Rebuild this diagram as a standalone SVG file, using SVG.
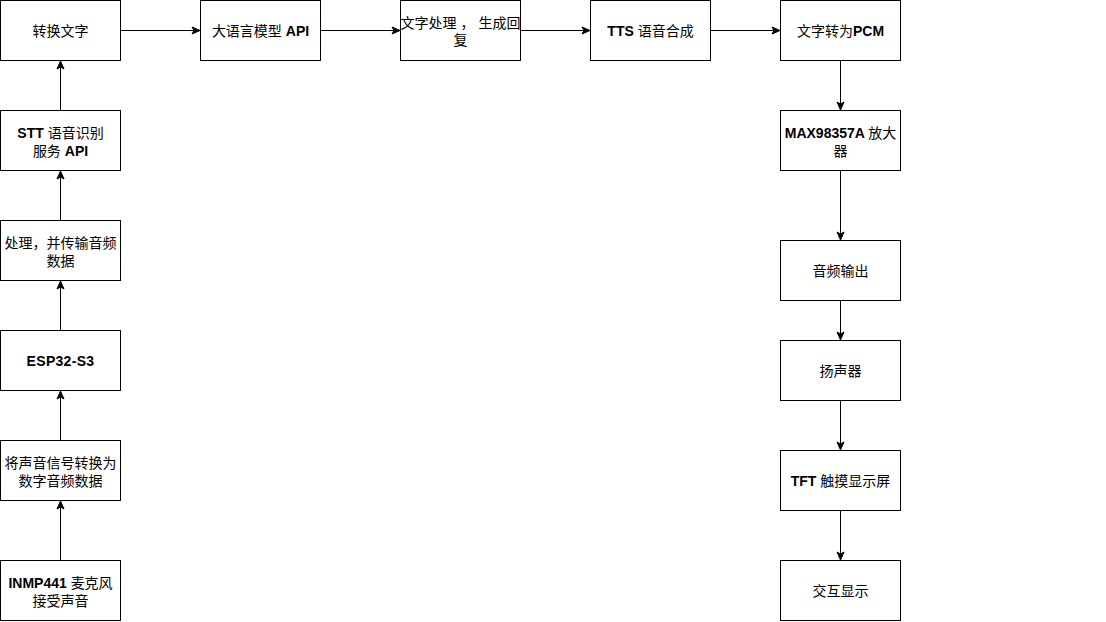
<svg xmlns="http://www.w3.org/2000/svg" width="1106" height="622" viewBox="0 0 1106 622">
<style>
rect.box{fill:#fff;stroke:#000;stroke-width:1}
text{font-family:"Liberation Sans","Noto Sans CJK SC",sans-serif;font-size:14px;fill:#000;text-anchor:middle}
.b{font-weight:bold}
.conn line{stroke:#000;stroke-width:1;marker-end:url(#arr)}
</style>
<defs>
<marker id="arr" markerUnits="userSpaceOnUse" markerWidth="10" markerHeight="10" viewBox="0 0 10 10" refX="9" refY="5" orient="auto">
<path d="M1,1.5 L9,5 L1,8.5 L3,5 Z" fill="#000" stroke="#000" stroke-width="1"/>
</marker>
</defs>
<rect width="1106" height="622" fill="#fff"/>
<g class="conn">
<line x1="60.5" y1="560" x2="60.5" y2="501"/>
<line x1="60.5" y1="440" x2="60.5" y2="391"/>
<line x1="60.5" y1="330" x2="60.5" y2="281"/>
<line x1="60.5" y1="220" x2="60.5" y2="171"/>
<line x1="60.5" y1="110" x2="60.5" y2="61"/>
<line x1="121" y1="30.5" x2="200" y2="30.5"/>
<line x1="321" y1="30.5" x2="400" y2="30.5"/>
<line x1="521" y1="30.5" x2="590" y2="30.5"/>
<line x1="711" y1="30.5" x2="780" y2="30.5"/>
<line x1="840.5" y1="61" x2="840.5" y2="110"/>
<line x1="840.5" y1="171" x2="840.5" y2="240"/>
<line x1="840.5" y1="301" x2="840.5" y2="340"/>
<line x1="840.5" y1="401" x2="840.5" y2="450"/>
<line x1="840.5" y1="511" x2="840.5" y2="560"/>
</g>
<g id="n-zhuanhuan"><rect class="box" x="0.5" y="0.5" width="120" height="60"/><text x="60.5" y="35.5">转换文字</text></g>
<g id="n-stt"><rect class="box" x="0.5" y="110.5" width="120" height="60"/><text x="60.5" y="137.5"><tspan class="b">STT </tspan>语音识别</text><text x="60.5" y="155.5">服务 <tspan class="b">API</tspan></text></g>
<g id="n-chuli"><rect class="box" x="0.5" y="220.5" width="120" height="60"/><text x="60.5" y="247.5">处理，并传输音频</text><text x="60.5" y="265.5">数据</text></g>
<g id="n-esp"><rect class="box" x="0.5" y="330.5" width="120" height="60"/><text class="b" x="60.5" y="365.5" letter-spacing="0.3">ESP32-S3</text></g>
<g id="n-adc"><rect class="box" x="0.5" y="440.5" width="120" height="60"/><text x="60.5" y="467.5">将声音信号转换为</text><text x="60.5" y="485.5">数字音频数据</text></g>
<g id="n-inmp"><rect class="box" x="0.5" y="560.5" width="120" height="60"/><text x="60.5" y="587.5"><tspan class="b">INMP441 </tspan>麦克风</text><text x="60.5" y="605.5">接受声音</text></g>
<g id="n-llm"><rect class="box" x="200.5" y="0.5" width="120" height="60"/><text x="260.5" y="35.5">大语言模型 <tspan class="b">API</tspan></text></g>
<g id="n-reply"><rect class="box" x="400.5" y="0.5" width="120" height="60"/><text x="460.5" y="27.5">文字处理 ， 生成回</text><text x="460.5" y="44.5">复</text></g>
<g id="n-tts"><rect class="box" x="590.5" y="0.5" width="120" height="60"/><text x="650.5" y="35.5"><tspan class="b">TTS </tspan>语音合成</text></g>
<g id="n-pcm"><rect class="box" x="780.5" y="0.5" width="120" height="60"/><text x="840.5" y="35.5">文字转为<tspan class="b">PCM</tspan></text></g>
<g id="n-max"><rect class="box" x="780.5" y="110.5" width="120" height="60"/><text x="840.5" y="137.5"><tspan class="b">MAX98357A </tspan>放大</text><text x="840.5" y="155.5">器</text></g>
<g id="n-audio"><rect class="box" x="780.5" y="240.5" width="120" height="60"/><text x="840.5" y="275.5">音频输出</text></g>
<g id="n-speaker"><rect class="box" x="780.5" y="340.5" width="120" height="60"/><text x="840.5" y="375.5">扬声器</text></g>
<g id="n-tft"><rect class="box" x="780.5" y="450.5" width="120" height="60"/><text x="840.5" y="485.5"><tspan class="b">TFT </tspan>触摸显示屏</text></g>
<g id="n-interact"><rect class="box" x="780.5" y="560.5" width="120" height="60"/><text x="840.5" y="595.5">交互显示</text></g>
</svg>
